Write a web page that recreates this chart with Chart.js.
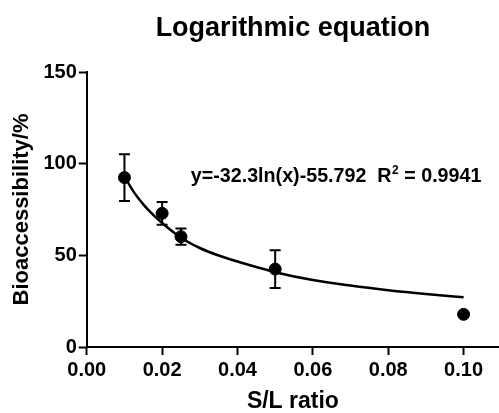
<!DOCTYPE html>
<html>
<head>
<meta charset="utf-8">
<script src="https://cdn.jsdelivr.net/npm/chart.js@4/dist/chart.umd.min.js"></script>
<style>
  html, body { margin: 0; padding: 0; background: #fff; }
  #wrap { width: 499px; height: 413px; }
</style>
</head>
<body>
<div id="wrap"><canvas id="c"></canvas></div>
<script>
// values
const ratio = [0.01, 0.02, 0.025, 0.05, 0.1];
const bioMean = [92.4, 72.9, 60.2, 42.5, 17.8];
const bioErr = [12.7, 6.2, 4.4, 10.3, 0];

// fitted curve
const fitX = [0.01, 0.0125, 0.015, 0.0175, 0.02, 0.025, 0.03, 0.035, 0.04, 0.045, 0.05, 0.06, 0.07, 0.08, 0.09, 0.1];
const fitY = [92.9, 84.5, 77.8, 72.3, 67.6, 59.6, 54.0, 49.9, 46.6, 43.6, 40.8, 36.5, 33.5, 31.0, 28.9, 27.1];

const xTicks = [0, 0.02, 0.04, 0.06, 0.08, 0.10];
const yTicks = [0, 50, 100, 150];
const TITLE = "Logarithmic equation";
const EQ_TEXT = "y=-32.3ln(x)-55.792  R";
const R2_TEXT = " = 0.9941";

const FONT = "'Liberation Sans', Arial, sans-serif";

// error bars: vertical line + caps, through the chart's own scales
const errorBars = {
  id: "errorBars",
  beforeDatasetsDraw(chart) {
    const { ctx, scales: { x, y } } = chart;
    ctx.save();
    ctx.strokeStyle = "#000";
    ctx.lineWidth = 2;
    ratio.forEach((r, i) => {
      if (!bioErr[i]) return;
      const px = x.getPixelForValue(r);
      const top = y.getPixelForValue(bioMean[i] + bioErr[i]);
      const bot = y.getPixelForValue(bioMean[i] - bioErr[i]);
      ctx.beginPath();
      ctx.moveTo(px, top); ctx.lineTo(px, bot);
      ctx.moveTo(px - 5.5, top); ctx.lineTo(px + 5.5, top);
      ctx.moveTo(px - 5.5, bot); ctx.lineTo(px + 5.5, bot);
      ctx.stroke();
    });
    ctx.restore();
  },
};

// title centred over the plot area (not the whole canvas) + equation label
const labels = {
  id: "labels",
  afterDatasetsDraw(chart) {
    const { ctx, chartArea, scales: { x, y } } = chart;
    ctx.save();
    ctx.fillStyle = "#000";
    ctx.textBaseline = "alphabetic";

    ctx.textAlign = "center";
    ctx.font = "bold 27px " + FONT;
    ctx.fillText(TITLE, (chartArea.left + chartArea.right) / 2, 36);

    ctx.textAlign = "left";
    let px = x.getPixelForValue(0.0276);
    const py = y.getPixelForValue(90);
    ctx.font = "bold 19.7px " + FONT;
    ctx.fillText(EQ_TEXT, px, py);
    px += ctx.measureText(EQ_TEXT).width;
    ctx.font = "bold 12px " + FONT;
    ctx.fillText("2", px + 0.5, py - 8);
    px += ctx.measureText("2").width + 0.5;
    ctx.font = "bold 19.7px " + FONT;
    ctx.fillText(R2_TEXT, px, py);
    ctx.restore();
  },
};

new Chart(document.getElementById("c"), {
  type: "scatter",
  data: {
    datasets: [
      {
        type: "line",
        data: fitX.map((v, i) => ({ x: v, y: fitY[i] })),
        borderColor: "#000",
        borderWidth: 2.5,
        pointRadius: 0,
        cubicInterpolationMode: "monotone",
        fill: false,
      },
      {
        data: ratio.map((v, i) => ({ x: v, y: bioMean[i] })),
        backgroundColor: "#000",
        borderColor: "#000",
        pointRadius: 6,
        pointHoverRadius: 6,
      },
    ],
  },
  options: {
    responsive: true,
    maintainAspectRatio: false,
    animation: false,
    layout: { autoPadding: false, padding: { left: 9, right: 0, top: 72, bottom: 0 } },
    plugins: {
      legend: { display: false },
      tooltip: { enabled: false },
      title: { display: false },
    },
    scales: {
      x: {
        type: "linear",
        min: 0,
        max: 0.1094,
        afterBuildTicks: (s) => { s.ticks = xTicks.map((v) => ({ value: v })); },
        border: { display: true, color: "#000", width: 2 },
        grid: { drawOnChartArea: false, drawTicks: true, tickLength: 8, tickWidth: 2, tickColor: "#000" },
        ticks: {
          color: "#000",
          padding: 3,
          font: { family: FONT, size: 20, weight: "bold" },
          callback: (v) => v.toFixed(2),
        },
        title: {
          display: true,
          text: "S/L ratio",
          color: "#000",
          font: { family: FONT, size: 23, weight: "bold", lineHeight: 1 },
          padding: { top: 5, bottom: 0 },
        },
      },
      y: {
        min: 0,
        max: 150,
        afterBuildTicks: (s) => { s.ticks = yTicks.map((v) => ({ value: v })); },
        border: { display: true, color: "#000", width: 2 },
        grid: { drawOnChartArea: false, drawTicks: true, tickLength: 8, tickWidth: 2, tickColor: "#000" },
        ticks: {
          color: "#000",
          padding: 2,
          font: { family: FONT, size: 20, weight: "bold" },
        },
        title: {
          display: true,
          text: "Bioaccessibility/%",
          color: "#000",
          font: { family: FONT, size: 22, weight: "bold" },
          padding: { top: 0, bottom: 6 },
        },
      },
    },
  },
  plugins: [errorBars, labels],
});
</script>
</body>
</html>
